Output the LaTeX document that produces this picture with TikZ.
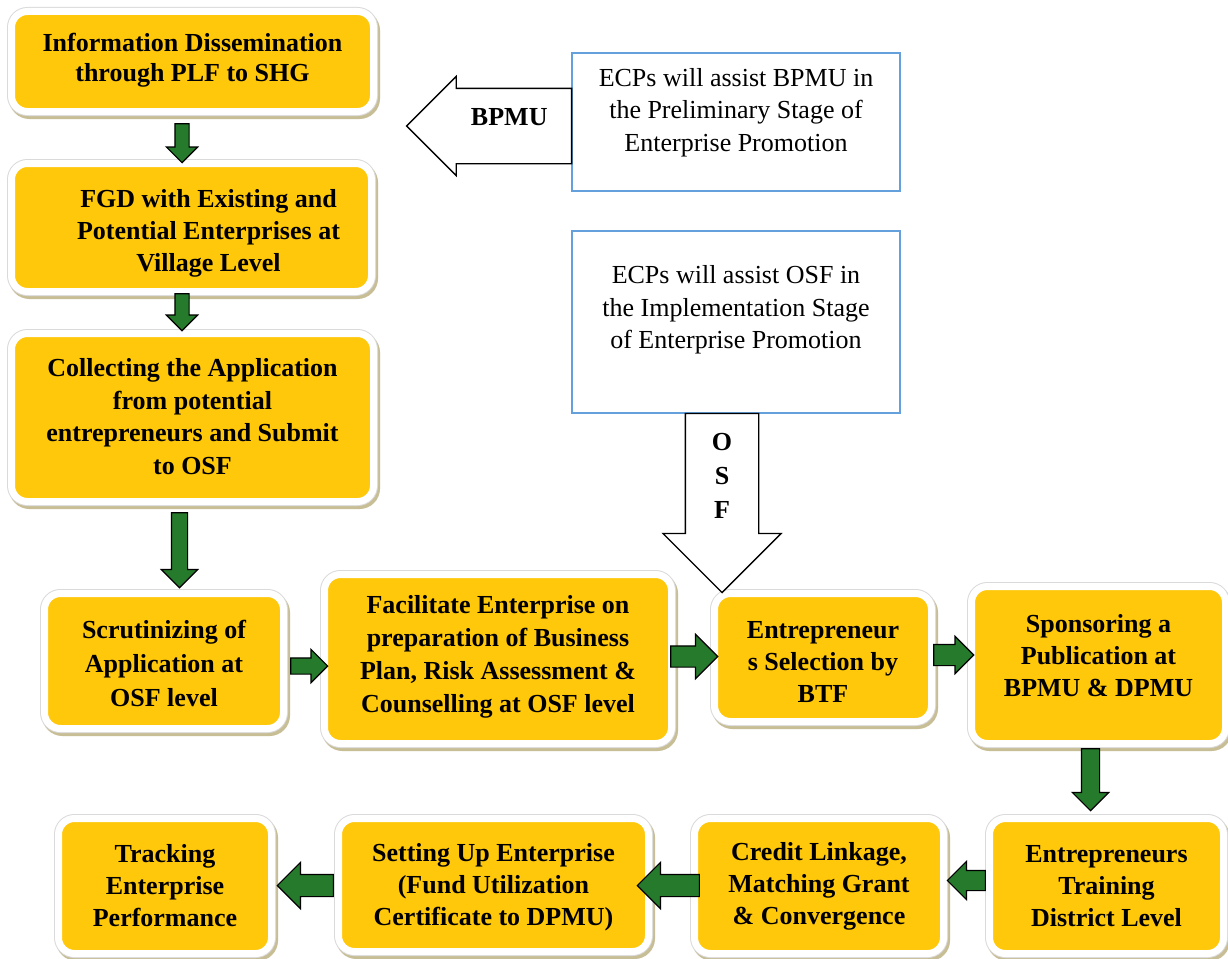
\documentclass[tikz,border=0pt]{standalone}
\usepackage{fontspec}
\setmainfont{Liberation Serif}
\usetikzlibrary{shapes.arrows,calc}
\definecolor{boxyellow}{RGB}{255,200,10}
\definecolor{arrgreen}{RGB}{38,122,44}
\definecolor{shadowc}{RGB}{200,190,150}
\definecolor{framegray}{RGB}{218,218,218}
\definecolor{ecpblue}{RGB}{100,160,220}
\begin{document}
\begin{tikzpicture}[x=1pt,y=-1pt,
 ybox/.style={rectangle, rounded corners=16pt, fill=boxyellow, draw=white, line width=7pt, inner sep=0pt,
   preaction={draw=shadowc, line width=9pt, transform canvas={xshift=2pt,yshift=-3pt}},
   preaction={draw=framegray, line width=9pt}},
 btxt/.style={font=\bfseries\fontsize{26}{32}\selectfont, align=center, inner sep=0pt},
 rtxt/.style={font=\fontsize{26}{32.5}\selectfont, align=center, inner sep=0pt},
 ecpbox/.style={rectangle, draw=ecpblue, line width=1.5pt, fill=white, inner sep=0pt},
 garrow/.style n args={3}{single arrow, draw=black, fill=arrgreen, line width=1.2pt, inner xsep=0pt, inner ysep=#2,
   minimum height=#1, single arrow head extend=#3},
 harrow/.style n args={3}{single arrow, draw=black, fill=white, line width=1.3pt, inner xsep=0pt, inner ysep=#2,
   minimum height=#1, single arrow head extend=#3},
 ]
\fill[white] (0,0) rectangle (1228,958);
\useasboundingbox (0,0) rectangle (1228,958);

% yellow boxes
\node[ybox, minimum width=362pt, minimum height=100pt] (b1) at (192.5,61.5) {};
\node[ybox, minimum width=360pt, minimum height=128pt] (b2) at (191.5,227.5) {};
\node[ybox, minimum width=362pt, minimum height=168pt] (b3) at (192.5,417.5) {};
\node[ybox, minimum width=239pt, minimum height=135pt] (b4) at (164,661) {};
\node[ybox, minimum width=347pt, minimum height=169pt] (b5) at (498,659) {};
\node[ybox, minimum width=217pt, minimum height=128pt] (b6) at (823,657.5) {};
\node[ybox, minimum width=254pt, minimum height=157pt] (b7) at (1098.5,665) {};
\node[ybox, minimum width=234pt, minimum height=135pt] (b8) at (1106.5,886) {};
\node[ybox, minimum width=249pt, minimum height=135pt] (b9) at (819,886) {};
\node[ybox, minimum width=310pt, minimum height=133pt] (b10) at (493.5,885) {};
\node[ybox, minimum width=213pt, minimum height=135pt] (b11) at (165,886) {};

% texts
\node[btxt, font=\bfseries\fontsize{26}{30}\selectfont, yshift=1.5pt] (t1) at (b1) {Information Dissemination\\through PLF to SHG};
\node[btxt, xshift=17pt, yshift=-5.5pt] (t2) at (b2) {FGD with Existing and\\Potential Enterprises at\\Village Level};
\node[btxt, font=\bfseries\fontsize{26}{32.7}\selectfont, yshift=1pt] (t3) at (b3) {Collecting the Application\\from potential\\entrepreneurs and Submit\\to OSF};
\node[btxt, font=\bfseries\fontsize{26}{34}\selectfont, yshift=-2pt] (t4) at (b4) {Scrutinizing of\\Application at\\OSF level};
\node[btxt, font=\bfseries\fontsize{26}{33}\selectfont, yshift=2pt] (t5) at (b5) {Facilitate Enterprise on\\preparation of Business\\Plan, Risk Assessment \&\\Counselling at OSF level};
\node[btxt, yshift=-5pt] (t6) at (b6) {Entrepreneur\\s Selection by\\BTF};
\node[btxt, yshift=9.5pt] (t7) at (b7) {Sponsoring a\\Publication at\\BPMU \& DPMU};
\node[btxt] (t8) at (b8) {Entrepreneurs\\Training\\District Level};
\node[btxt] (t9) at (b9) {Credit Linkage,\\Matching Grant\\\& Convergence};
\node[btxt, yshift=-2pt] (t10) at (b10) {Setting Up Enterprise\\(Fund Utilization\\Certificate to DPMU)};
\node[btxt] (t11) at (b11) {Tracking\\Enterprise\\Performance};

% ECP boxes
\node[ecpbox, minimum width=328pt, minimum height=138pt] (ecp1) at (736,122) {};
\node[rtxt, yshift=9.5pt] (e1t) at (ecp1) {ECPs will assist BPMU in\\the Preliminary Stage of\\Enterprise Promotion};
\node[ecpbox, minimum width=328pt, minimum height=182pt] (ecp2) at (736,322) {};
\node[rtxt, yshift=12pt] (e2t) at (ecp2) {ECPs will assist OSF in\\the Implementation Stage\\of Enterprise Promotion};

% hollow arrows
\node[harrow={165pt}{37pt}{12pt}, rotate=180, anchor=tail] (bpmuarrow) at ($(ecp1.west)+(1,4)$) {};
\node[btxt] (bpmulbl) at ($(bpmuarrow.tail)+(-63,-9)$) {BPMU};
\node[harrow={179pt}{36pt}{22.5pt}, rotate=-90, anchor=tip] (osfarrow) at ($(b6.north west)+(11,3.5)$) {};
\node[btxt, font=\bfseries\fontsize{26}{34}\selectfont] (osflbl) at ($(osfarrow.tail)+(0,63)$) {O\\S\\F};

% green arrows (tip placed against the target box)
\node[garrow={39pt}{6.5pt}{8.5pt}, rotate=-90, anchor=tip] (a12) at ($(b2.north)+(-9.5,3.5)$) {};
\node[garrow={37pt}{6.5pt}{8.5pt}, rotate=-90, anchor=tip] (a23) at ($(b3.north)+(-10.5,1.5)$) {};
\node[garrow={75pt}{7.5pt}{10pt}, rotate=-90, anchor=tip] (a34) at ($(b4.north)+(15.5,-1.5)$) {};
\node[garrow={37pt}{7.5pt}{8.5pt}, anchor=tip] (a45) at ($(b5.west)+(7.5,7)$) {};
\node[garrow={47pt}{10pt}{11.5pt}, anchor=tip] (a56) at ($(b6.west)+(7.5,-1)$) {};
\node[garrow={40pt}{10pt}{8pt}, anchor=tip] (a67) at ($(b7.west)+(6.5,-10)$) {};
\node[garrow={62pt}{8.5pt}{9pt}, rotate=-90, anchor=tip] (a78) at ($(b8.north)+(-16,-3.5)$) {};
\node[garrow={38pt}{9.5pt}{9pt}, rotate=180, anchor=tip] (a89) at ($(b9.east)+(-0.5,-5.5)$) {};
\node[garrow={62pt}{10.5pt}{12pt}, rotate=180, anchor=tip] (a910) at ($(b10.east)+(-15.5,0.5)$) {};
\node[garrow={56pt}{10.5pt}{12pt}, rotate=180, anchor=tip] (a1011) at ($(b11.east)+(1.5,-0.5)$) {};
\end{tikzpicture}
\end{document}
